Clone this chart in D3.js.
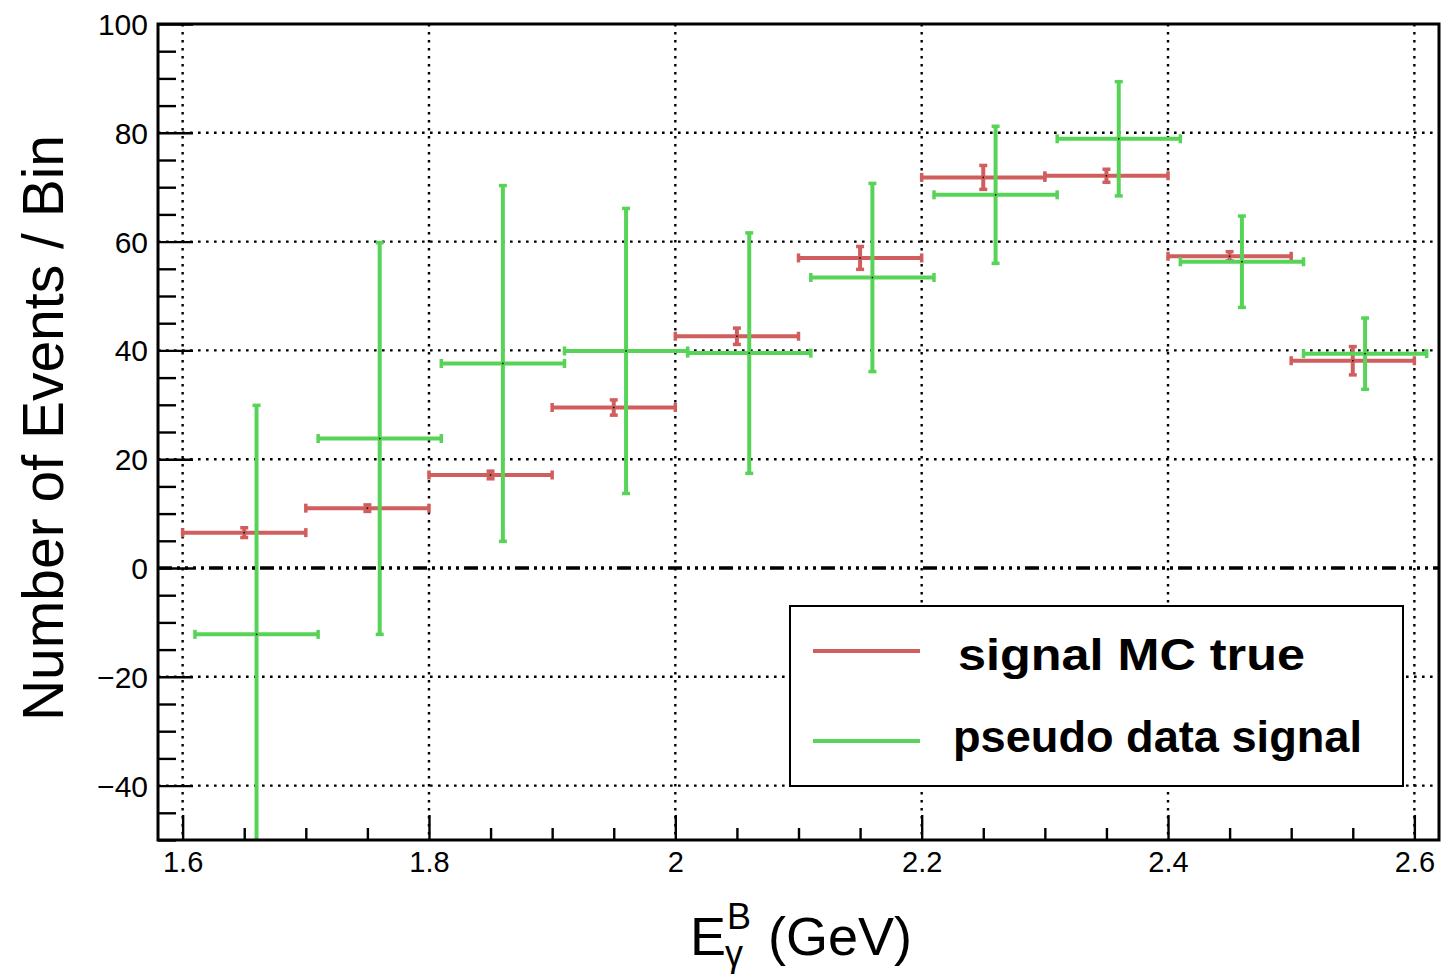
<!DOCTYPE html>
<html>
<head>
<meta charset="utf-8">
<script src="https://cdn.jsdelivr.net/npm/d3@7"></script>
<style>
  html, body { margin: 0; padding: 0; background: #fff; }
  svg { display: block; }
  text { font-family: "Liberation Sans", Arial, Helvetica, sans-serif; fill: #000; }
</style>
</head>
<body>
<svg id="chart" width="1441" height="974"></svg>
<script>
// ---- data ----
const binHalfWidth = 0.05;
const redCenters   = [1.65, 1.75, 1.85, 1.95, 2.05, 2.15, 2.25, 2.35, 2.45, 2.55];
const redValues    = [6.5, 11.0, 17.1, 29.5, 42.6, 57.0, 71.8, 72.1, 57.3, 38.1];
const redErrors    = [0.9, 0.6, 0.7, 1.4, 1.5, 2.1, 2.2, 1.2, 0.85, 2.6];
const greenCenters = [1.66, 1.76, 1.86, 1.96, 2.06, 2.16, 2.26, 2.36, 2.46, 2.56];
const greenValues  = [-12.2, 23.8, 37.6, 39.9, 39.5, 53.4, 68.6, 78.9, 56.3, 39.4];
const greenErrors  = [42.1, 36.0, 32.7, 26.2, 22.1, 17.3, 12.6, 10.5, 8.4, 6.55];
const xMajorTicks  = [1.6, 1.8, 2.0, 2.2, 2.4, 2.6];
const xTickLabels  = ["1.6", "1.8", "2", "2.2", "2.4", "2.6"];
const yMajorTicks  = [-40, -20, 0, 20, 40, 60, 80, 100];
const yTickLabels  = ["\u221240", "\u221220", "0", "20", "40", "60", "80", "100"];
const seriesNames  = ["signal MC true", "pseudo data signal"];
const seriesColors = ["#d15e5e", "#57d357"];

// ---- layout ----
const svg = d3.select("#chart");
const L = 158, R = 1439, T = 24, B = 840;
const x = d3.scaleLinear().domain([1.58, 2.62]).range([L, R]);
const y = d3.scaleLinear().domain([-50, 100]).range([B, T]);

svg.append("defs").append("clipPath").attr("id", "plotclip")
  .append("rect").attr("x", L).attr("y", T).attr("width", R - L).attr("height", B - T);

// grid
const grid = svg.append("g");
grid.selectAll(".gx").data(xMajorTicks).enter().append("line")
  .attr("x1", d => x(d)).attr("x2", d => x(d)).attr("y1", T).attr("y2", B)
  .attr("stroke", "#000").attr("stroke-width", 2.4).attr("stroke-dasharray", "2.6,5.4");
grid.selectAll(".gy").data(yMajorTicks.filter(d => d !== 0 && d !== 100)).enter().append("line")
  .attr("x1", L).attr("x2", R).attr("y1", d => y(d)).attr("y2", d => y(d))
  .attr("stroke", "#000").attr("stroke-width", 2.4).attr("stroke-dasharray", "2.6,5.4");

// axes with inward ticks
const xMinor = d3.range(1.6, 2.6001, 0.05).filter(v => !xMajorTicks.some(m => Math.abs(m - v) < 1e-6));
const yMinor = d3.range(-50, 100.001, 5).filter(v => !yMajorTicks.some(m => Math.abs(m - v) < 1e-6));

const xAxisMajor = d3.axisBottom(x).tickValues(xMajorTicks).tickSize(-25)
  .tickFormat((d, i) => xTickLabels[i]).tickPadding(34);
const xAxisMinor = d3.axisBottom(x).tickValues(xMinor).tickSize(-12).tickFormat("");
const yAxisMajor = d3.axisLeft(y).tickValues(yMajorTicks).tickSize(-35)
  .tickFormat((d, i) => yTickLabels[i]).tickPadding(45);
const yAxisMinor = d3.axisLeft(y).tickValues(yMinor).tickSize(-18).tickFormat("");

function styleAxis(g) {
  g.select(".domain").remove();
  g.selectAll(".tick line").attr("stroke", "#000").attr("stroke-width", 2.4);
}
svg.append("g").attr("transform", `translate(0,${B})`).call(xAxisMinor).call(styleAxis);
const gx = svg.append("g").attr("transform", `translate(0,${B})`).call(xAxisMajor).call(styleAxis);
gx.selectAll(".tick text").attr("font-size", 29).attr("font-family", "Liberation Sans, Arial, sans-serif")
  .attr("dy", 0).attr("y", 32);
svg.append("g").attr("transform", `translate(${L},0)`).call(yAxisMinor).call(styleAxis);
const gy = svg.append("g").attr("transform", `translate(${L},0)`).call(yAxisMajor).call(styleAxis);
gy.selectAll(".tick text").attr("font-size", 30).attr("font-family", "Liberation Sans, Arial, sans-serif")
  .attr("x", -10).attr("dy", "0.35em");

// data
const plot = svg.append("g").attr("clip-path", "url(#plotclip)");
function drawSeries(centers, values, errors, color) {
  const g = plot.append("g");
  const pts = centers.map((c, i) => ({c, v: values[i], e: errors[i]}));
  const capH = 4.5, capW = 4;
  pts.forEach(p => {
    const x0 = x(p.c - binHalfWidth), x1 = x(p.c + binHalfWidth), xc = x(p.c);
    const yc = y(p.v), yt = y(p.v + p.e), yb = y(p.v - p.e);
    g.append("line").attr("x1", x0).attr("x2", x1).attr("y1", yc).attr("y2", yc)
      .attr("stroke", color).attr("stroke-width", 4);
    [x0, x1].forEach(xx => g.append("line").attr("x1", xx).attr("x2", xx)
      .attr("y1", yc - capH).attr("y2", yc + capH).attr("stroke", color).attr("stroke-width", 3.5));
    g.append("line").attr("x1", xc).attr("x2", xc).attr("y1", yt).attr("y2", yb)
      .attr("stroke", color).attr("stroke-width", 4);
    [yt, yb].forEach(yy => g.append("line").attr("x1", xc - capW).attr("x2", xc + capW)
      .attr("y1", yy).attr("y2", yy).attr("stroke", color).attr("stroke-width", 3.5));
    g.append("rect").attr("x", xc - 0.75).attr("y", yc - 0.75).attr("width", 1.5).attr("height", 1.5)
      .attr("fill", "#000");
  });
}
drawSeries(redCenters, redValues, redErrors, seriesColors[0]);
drawSeries(greenCenters, greenValues, greenErrors, seriesColors[1]);

// zero line (dash-dot)
svg.append("line").attr("x1", L).attr("x2", R).attr("y1", y(0)).attr("y2", y(0))
  .attr("stroke", "#000").attr("stroke-width", 3.4)
  .attr("stroke-dasharray", "14,5,3,5,3,5,3,5,3,5");

// frame
svg.append("rect").attr("x", L).attr("y", T).attr("width", R - L).attr("height", B - T)
  .attr("fill", "none").attr("stroke", "#000").attr("stroke-width", 3);

// axis titles
svg.append("text").attr("transform", "translate(63,428) rotate(-90)")
  .attr("text-anchor", "middle").attr("font-size", 57).text("Number of Events / Bin");

svg.append("text").attr("x", 690).attr("y", 955).attr("font-size", 54).text("E");
svg.append("text").attr("x", 727).attr("y", 929).attr("font-size", 36).text("B");
svg.append("text").attr("x", 725).attr("y", 966).attr("font-size", 36).text("\u03b3");
svg.append("text").attr("x", 768).attr("y", 955).attr("font-size", 54).text("(GeV)");

// legend
const lg = svg.append("g");
lg.append("rect").attr("x", 790).attr("y", 606).attr("width", 613).attr("height", 180)
  .attr("fill", "#fff").attr("stroke", "#000").attr("stroke-width", 2);
const legY = [651, 741];
const legTextX = [958, 953];
const legBase = [670, 752];
const legLen = [347, 409];
seriesNames.forEach((name, i) => {
  lg.append("line").attr("x1", 813).attr("x2", 920).attr("y1", legY[i]).attr("y2", legY[i])
    .attr("stroke", seriesColors[i]).attr("stroke-width", 4);
  lg.append("text").attr("x", legTextX[i]).attr("y", legBase[i])
    .attr("font-size", 45).attr("font-weight", "bold")
    .attr("textLength", legLen[i]).attr("lengthAdjust", "spacingAndGlyphs")
    .text(name);
});
</script>
</body>
</html>
